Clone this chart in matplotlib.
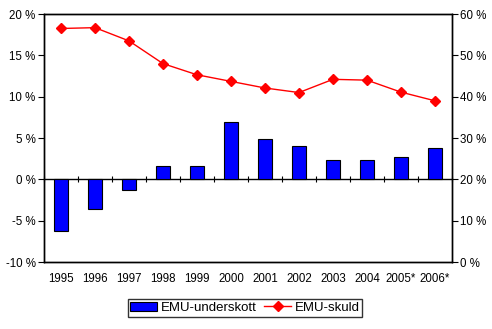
import matplotlib
matplotlib.use('Agg')
import matplotlib.pyplot as plt
import numpy

years = ['1995', '1996', '1997', '1998', '1999', '2000', '2001', '2002',
         '2003', '2004', '2005*', '2006*']
underskott = [-6.2, -3.6, -1.3, 1.6, 1.6, 6.9, 4.9, 4.0, 2.4, 2.3, 2.7, 3.8]
skuld = [56.5, 56.7, 53.5, 48.0, 45.3, 43.7, 42.1, 41.0, 44.2, 44.0, 41.1, 39.0]

plt.rcParams['font.family'] = ['Liberation Sans', 'DejaVu Sans']
plt.rcParams['font.size'] = 8.3

fig = plt.figure(figsize=(4.92, 3.29), dpi=100)
ax = fig.add_axes([0.0894, 0.2036, 0.8293, 0.7538])
ax2 = ax.twinx()

x = numpy.arange(len(years))
bars = ax.bar(x, underskott, width=0.44, color='#0000ff', edgecolor='black',
              linewidth=0.8, label='EMU-underskott', zorder=3)
line, = ax2.plot(x, skuld, color='#ff0000', linewidth=1, marker='D',
                 markersize=5, label='EMU-skuld')

ax.set_xlim(-0.5, len(years) - 0.5)
ax.set_ylim(-10, 20)
ax.set_yticks(range(-10, 21, 5))
ax.set_yticklabels(['%d %%' % v for v in range(-10, 21, 5)])
ax2.set_ylim(0, 60)
ax2.set_yticks(range(0, 61, 10))
ax2.set_yticklabels(['%d %%' % v for v in range(0, 61, 10)])

ax.set_xticks(x)
ax.set_xticklabels(years)
ax.tick_params(axis='x', length=0, pad=8)
ax.tick_params(axis='y', direction='out', length=4, width=0.8, pad=2)
ax2.tick_params(axis='y', direction='out', length=4, width=0.8, pad=2)

# category axis drawn at zero
zero_frac = (0 - (-10)) / 30.0
sec = ax.secondary_xaxis(zero_frac)
sec.set_xticks(numpy.arange(-0.5, len(years), 1.0))
sec.set_xticklabels([])
sec.tick_params(direction='inout', length=5, width=0.8)
sec.spines['bottom'].set_linewidth(1)

for a in (ax, ax2):
    for s in a.spines.values():
        s.set_linewidth(1)
        s.set_color('black')

leg = fig.legend(handles=[bars, line], loc='center', bbox_to_anchor=(0.498, 0.064),
                 ncol=2, fontsize=9.5, frameon=True, fancybox=False,
                 edgecolor='black', borderpad=0.2, handlelength=2.0,
                 handletextpad=0.3, columnspacing=0.6, handleheight=0.7,
                 borderaxespad=0.2)
leg.get_frame().set_linewidth(1)

fig.savefig('out.png', dpi=100)
